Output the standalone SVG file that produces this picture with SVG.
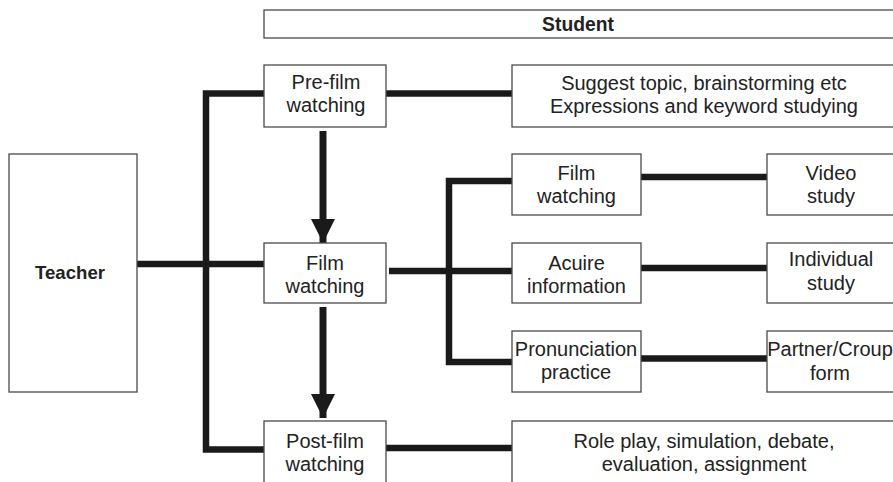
<svg xmlns="http://www.w3.org/2000/svg" width="893" height="482" viewBox="0 0 893 482">
<defs>
<style>
.box{fill:#fff;stroke:#4a4a4a;stroke-width:1.3}
.t{font-family:"Liberation Sans",Arial,sans-serif;font-size:20px;fill:#222;text-anchor:middle}
.b{font-weight:bold;font-size:18.6px}
.s{font-size:19.3px}
.ln{fill:none;stroke:#1a1a1a;stroke-width:6.5}
.ar{fill:none;stroke:#1a1a1a;stroke-width:7}
</style>
<marker id="ah" markerUnits="userSpaceOnUse" markerWidth="26" markerHeight="26" refX="24" refY="12" orient="auto">
<path d="M0,0 L24,12 L0,24 Z" fill="#1a1a1a"/>
</marker>
</defs>
<rect width="893" height="482" fill="#fff"/>
<g id="connectors">
<polyline class="ln" points="264,93.5 206,93.5 206,449.5 264,449.5"/>
<line class="ln" x1="137" y1="264" x2="264" y2="264"/>
<line class="ln" x1="386" y1="93.5" x2="512" y2="93.5"/>
<line class="ln" x1="386" y1="448" x2="512" y2="448"/>
<line class="ln" x1="389" y1="271" x2="512" y2="271"/>
<polyline class="ln" points="512,181 449,181 449,362 512,362"/>
<line class="ln" x1="641" y1="177" x2="767" y2="177"/>
<line class="ln" x1="641" y1="268" x2="767" y2="268"/>
<line class="ln" x1="641" y1="358.5" x2="767" y2="358.5"/>
<line class="ar" x1="323" y1="131" x2="323" y2="243" marker-end="url(#ah)"/>
<line class="ar" x1="323" y1="307" x2="323" y2="418" marker-end="url(#ah)"/>
</g>
<g id="student">
<rect class="box" x="264" y="10" width="640" height="28"/>
<text class="t b s" x="578" y="31">Student</text>
</g>
<g id="teacher">
<rect class="box" x="9" y="154" width="128" height="238"/>
<text class="t b" x="70" y="279">Teacher</text>
</g>
<g id="prefilm">
<rect class="box" x="264" y="65" width="122" height="62"/>
<text class="t"><tspan x="326" y="89">Pre-film</tspan><tspan x="326" y="112">watching</tspan></text>
</g>
<g id="filmwatching">
<rect class="box" x="264" y="243" width="122" height="60"/>
<text class="t"><tspan x="325" y="270">Film</tspan><tspan x="325" y="292.5">watching</tspan></text>
</g>
<g id="postfilm">
<rect class="box" x="264" y="421" width="122" height="70"/>
<text class="t"><tspan x="325" y="447.5">Post-film</tspan><tspan x="325" y="470.5">watching</tspan></text>
</g>
<g id="suggest">
<rect class="box" x="512" y="65" width="392" height="62"/>
<text class="t"><tspan x="704" y="90">Suggest topic, brainstorming etc</tspan><tspan x="704" y="113">Expressions and keyword studying</tspan></text>
</g>
<g id="filmwatching2">
<rect class="box" x="512" y="154" width="129" height="61"/>
<text class="t"><tspan x="576.5" y="179.5">Film</tspan><tspan x="576.5" y="202.5">watching</tspan></text>
</g>
<g id="videostudy">
<rect class="box" x="767" y="154" width="137" height="61"/>
<text class="t"><tspan x="831" y="179.5">Video</tspan><tspan x="831" y="202.5">study</tspan></text>
</g>
<g id="acuire">
<rect class="box" x="512" y="243" width="129" height="60"/>
<text class="t"><tspan x="576.5" y="270">Acuire</tspan><tspan x="576.5" y="292.5">information</tspan></text>
</g>
<g id="individual">
<rect class="box" x="767" y="243" width="137" height="60"/>
<text class="t"><tspan x="831" y="266">Individual</tspan><tspan x="831" y="290">study</tspan></text>
</g>
<g id="pronunciation">
<rect class="box" x="512" y="331" width="129" height="61"/>
<text class="t"><tspan x="576" y="356">Pronunciation</tspan><tspan x="576" y="378.5">practice</tspan></text>
</g>
<g id="partner">
<rect class="box" x="767" y="331" width="137" height="61"/>
<text class="t"><tspan x="830" y="356">Partner/Croup</tspan><tspan x="830" y="380">form</tspan></text>
</g>
<g id="roleplay">
<rect class="box" x="512" y="421" width="392" height="70"/>
<text class="t"><tspan x="704" y="447.5">Role play, simulation, debate,</tspan><tspan x="704" y="470.5">evaluation, assignment</tspan></text>
</g>
</svg>
